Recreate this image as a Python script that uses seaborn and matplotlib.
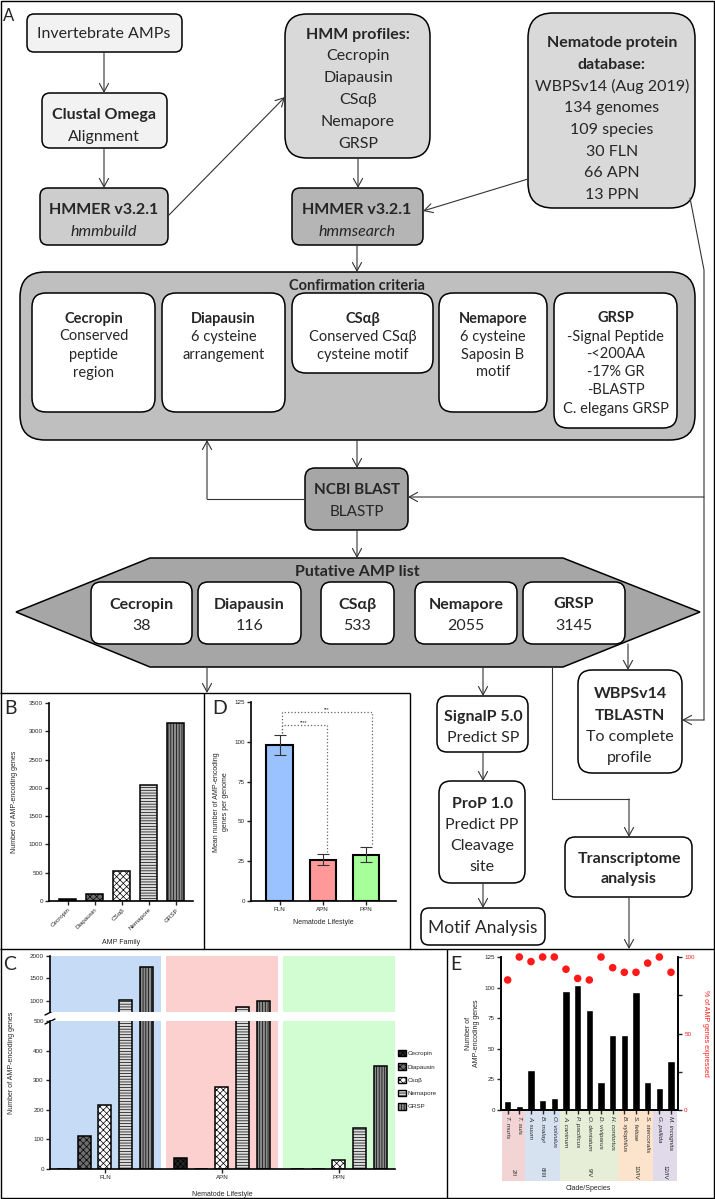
import numpy as np
import pandas as pd
import matplotlib.pyplot as plt
import seaborn as sns
from matplotlib.patches import FancyBboxPatch, Polygon, Patch, Rectangle

sns.set_style("ticks")
plt.rcParams['font.family'] = ['Liberation Sans', 'DejaVu Sans']
plt.rcParams['hatch.linewidth'] = 0.5
plt.rcParams['axes.linewidth'] = 1.2
plt.rcParams['axes.edgecolor'] = 'black'

# ---- data ----
families = ["Cecropin", "Diapausin", "CSαβ", "Nemapore", "GRSP"]
legend_names = ["Cecropin", "Diapausin", "Csαβ", "Nemapore", "GRSP"]
family_totals = [38, 116, 533, 2055, 3145]

lifestyles = ["FLN", "APN", "PPN"]
mean_per_genome = [98, 26, 29]
sem_per_genome = [6.3, 3.5, 4.7]

fln_counts = [0, 113, 215, 1025, 1745]
apn_counts = [36, 0, 278, 865, 1005]
ppn_counts = [0, 0, 31, 140, 349]

species = ["T. muris", "T. suis", "A. suum", "B. malayi", "O. volvulus",
           "A. caninum", "P. pacificus", "O. dentatum", "D. viviparus",
           "H. contortus", "B. xylophilus", "S. feltiae", "S. stercoralis",
           "G. pallida", "M. incognita"]
species_amps = [7, 3, 33, 8, 10, 97, 102, 82, 23, 61, 61, 96, 23, 18, 40]
species_pct = [85, 100, 97, 100, 100, 92, 86, 85, 100, 93, 90, 90, 96, 100, 90]
clades = ["2/I", "8/III", "9/V", "10/IV", "12/IV"]
clade_sizes = [2, 3, 5, 3, 2]

# styles
fam_fc = ['#262626', '#6e6e6e', 'white', '#dcdcdc', '#8c8c8c']
fam_hatch = ['xxxxxx', 'xxxxx', 'xxxxx', '------', '||||||']
life_colors = ['#99c2ff', '#ff9999', '#a6ff99']
life_bg = ['#c6dcf6', '#fdd0d0', '#d2fcd2']
clade_bg = ['#f2d4d4', '#d6e2f0', '#e6eed8', '#fce4cc', '#e0daea']
FLOW = ['Lato', 'DejaVu Sans']
FS = 11.5

W, H = 715, 1199
fig = plt.figure(figsize=(W / 100, H / 100), dpi=100)


def rect(x0, y0, x1, y1):
    return [x0 / W, 1 - y1 / H, (x1 - x0) / W, (y1 - y0) / H]


# overlay axes in pixel coordinates for the flowchart and frames
fa = fig.add_axes([0, 0, 1, 1])
fa.set_xlim(0, W)
fa.set_ylim(H, 0)
fa.axis('off')


def seg(xs, ys, lw=1.0, color='black'):
    fa.plot(xs, ys, color=color, lw=lw, solid_capstyle='butt')


def box(x0, y0, x1, y1, fc='white', r=10, lw=1.1):
    fa.add_patch(FancyBboxPatch((x0, y0), x1 - x0, y1 - y0,
                                boxstyle=f"round,pad=0,rounding_size={r}",
                                fc=fc, ec='black', lw=lw))


def lines(xc, y0, step, items, size=FS):
    for i, item in enumerate(items):
        txt, st = item if isinstance(item, tuple) else (item, '')
        fa.text(xc, y0 + i * step, txt, ha='center', va='center_baseline',
                fontsize=size, family=FLOW,
                fontweight='bold' if 'b' in st else 'normal',
                fontstyle='italic' if 'i' in st else 'normal')


def arrow(pts, color='#333333'):
    xs, ys = zip(*pts)
    if len(pts) > 2:
        fa.plot(xs[:-1], ys[:-1], color=color, lw=0.8)
    fa.annotate('', xy=pts[-1], xytext=pts[-2],
                arrowprops=dict(arrowstyle='->,head_length=0.55,head_width=0.3',
                                lw=0.8, color=color, shrinkA=0, shrinkB=0,
                                mutation_scale=11))


# frames
seg([1, 714, 714, 1, 1], [1, 1, 1198, 1198, 1])
seg([0, 410], [693, 693])
seg([204, 204], [693, 949])
seg([410, 410], [693, 949])
seg([0, 715], [949, 949])
seg([447, 447], [949, 1199])

# panel letters
for s, x, y in [("A", 9, 16), ("B", 11, 708), ("D", 220, 708), ("C", 10, 964), ("E", 456, 964)]:
    fa.text(x, y, s, ha='center', va='center', fontsize=14 if s != "A" else 12, family=FLOW)

# ---- flowchart ----
box(27, 14, 182, 52, '#f2f2f2', 7)
lines(104, 33, 0, ["Invertebrate AMPs"])
box(42, 93, 167, 148, '#f2f2f2', 8)
lines(104, 114, 22, [("Clustal Omega", 'b'), "Alignment"])
box(40, 188, 168, 245, '#cdcdcd', 8)
lines(104, 209, 22, [("HMMER v3.2.1", 'b'), ("hmmbuild", 'i')])
box(285, 14, 430, 158, '#d9d9d9', 22)
lines(358, 33, 21.8, [("HMM profiles:", 'b'), "Cecropin", "Diapausin", "CSαβ", "Nemapore", "GRSP"])
box(292, 188, 423, 245, '#b5b5b5', 8)
lines(357, 209, 22, [("HMMER v3.2.1", 'b'), ("hmmsearch", 'i')])
box(528, 13, 695, 208, '#d9d9d9', 25)
lines(612, 42, 21.6, [("Nematode protein", 'b'), ("database:", 'b'), "WBPSv14 (Aug 2019)",
                      "134 genomes", "109 species", "30 FLN", "66 APN", "13 PPN"])

box(20, 272, 695, 440, '#bfbfbf', 25)
lines(357, 284, 0, [("Confirmation criteria", 'b')], size=10.5)
crit = [
    ((32, 293, 155, 412), [("Cecropin", 'b'), "Conserved", "peptide", "region"]),
    ((162, 293, 285, 412), [("Diapausin", 'b'), "6 cysteine", "arrangement"]),
    ((292, 293, 433, 373), [("CSαβ", 'b'), "Conserved CSαβ", "cysteine motif"]),
    ((439, 293, 547, 412), [("Nemapore", 'b'), "6 cysteine", "Saposin B", "motif"]),
    ((554, 293, 677, 428), [("GRSP", 'b'), "-Signal Peptide", "-<200AA", "-17% GR",
                            "-BLASTP", "C. elegans GRSP"]),
]
for (x0, y0, x1, y1), items in crit:
    box(x0, y0, x1, y1, 'white', 14)
    lines((x0 + x1) / 2, 317, 18, items, size=10.5)

box(305, 468, 408, 530, '#a6a6a6', 10)
lines(357, 489, 22, [("NCBI BLAST", 'b'), "BLASTP"], size=11)

fa.add_patch(Polygon([(150, 558), (563, 558), (700, 612), (563, 667), (150, 667), (16, 612)],
                     closed=True, fc='#a6a6a6', ec='black', lw=1.1))
lines(357, 570, 0, [("Putative AMP list", 'b')])
amp_boxes = [(91, 192), (198, 301), (321, 394), (415, 517), (523, 625)]
for (x0, x1), fam, n in zip(amp_boxes, families, family_totals):
    box(x0, 582, x1, 644, 'white', 10)
    lines((x0 + x1) / 2, 603, 22, [(fam, 'b'), str(n)])

box(437, 696, 528, 752, 'white', 10)
lines(483, 715, 21, [("SignalP 5.0", 'b'), "Predict SP"])
box(439, 781, 525, 883, 'white', 12)
lines(482, 802, 21.3, [("ProP 1.0", 'b'), "Predict PP", "Cleavage", "site"])
box(421, 908, 545, 945, 'white', 8)
lines(483, 927, 0, ["Motif Analysis"], size=12.5)
box(578, 670, 682, 773, 'white', 14)
lines(630, 693, 21.3, [("WBPSv14", 'b'), ("TBLASTN", 'b'), "To complete", "profile"])
box(565, 837, 692, 897, 'white', 10)
lines(629, 857, 21, [("Transcriptome", 'b'), ("analysis", 'b')])

# arrows
arrow([(104, 52), (104, 93)])
arrow([(104, 148), (104, 188)])
arrow([(168, 216), (285, 97)])
arrow([(358, 158), (358, 188)])
arrow([(528, 179), (423, 211)])
arrow([(357, 245), (357, 272)])
arrow([(357, 440), (357, 468)])
arrow([(305, 499), (207, 499), (207, 440)])
arrow([(690, 198), (704, 270), (704, 720), (682, 720)])
arrow([(704, 497), (408, 497)])
arrow([(357, 530), (357, 558)])
arrow([(207, 667), (207, 693)])
arrow([(483, 667), (483, 696)])
arrow([(483, 752), (483, 781)])
arrow([(483, 883), (483, 908)])
arrow([(628, 644), (628, 670)])
arrow([(552, 667), (552, 799), (629, 799), (629, 837)])
arrow([(629, 897), (629, 949)])

# ---- panel B ----
axB = fig.add_axes(rect(49, 703, 193, 901))
dfB = pd.DataFrame({"family": families, "count": family_totals})
sns.barplot(data=dfB, x="family", y="count", color="white", width=0.63,
            edgecolor="black", linewidth=1.1, saturation=1, ax=axB)
for bar, fc, h in zip(axB.patches, fam_fc, fam_hatch):
    bar.set_facecolor(fc)
    bar.set_hatch(h)
axB.set_xlim(-0.7, 4.63)
axB.set_ylim(0, 3500)
axB.set_yticks(range(0, 3501, 500))
axB.set_xticks(range(len(families)))
axB.set_xticklabels(families, rotation=45, ha='right', rotation_mode='anchor')
axB.tick_params(labelsize=4.5, width=1, length=3, pad=1.5)
axB.set_xlabel("")
axB.set_ylabel("")
sns.despine(ax=axB)
fa.text(121, 943, "AMP Family", ha='center', va='center', fontsize=5)
fa.text(15, 802, "Number of AMP-encoding genes", ha='center', va='center', fontsize=5, rotation=90)

# ---- panel D ----
axD = fig.add_axes(rect(251, 702, 396, 901))
dfD = pd.DataFrame({"lifestyle": lifestyles, "mean": mean_per_genome})
sns.barplot(data=dfD, x="lifestyle", y="mean", hue="lifestyle", palette=life_colors,
            width=0.62, edgecolor="black", linewidth=1.5, saturation=1,
            legend=False, errorbar=None, ax=axD)
axD.errorbar(range(3), mean_per_genome, yerr=sem_per_genome, fmt='none',
             ecolor='#333333', elinewidth=0.8, capsize=4.5, capthick=0.8, zorder=5)
axD.plot([0.05, 0.05, 1.1, 1.1], [105.5, 110.5, 110.5, 30.5], ls=':', color='#666666', lw=0.9)
axD.plot([0.05, 0.05, 2.15, 2.15], [105.5, 119, 119, 35], ls=':', color='#666666', lw=0.9)
axD.text(0.56, 112, "****", ha='center', va='center', fontsize=3.5)
axD.text(1.1, 120.5, "***", ha='center', va='center', fontsize=3.5)
axD.set_xlim(-0.67, 2.7)
axD.set_ylim(0, 125)
axD.set_yticks(range(0, 126, 25))
axD.tick_params(labelsize=4.5, width=1, length=3, pad=1.5)
axD.set_xlabel("")
axD.set_ylabel("")
sns.despine(ax=axD)
fa.text(323, 923, "Nematode Lifestyle", ha='center', va='center', fontsize=5)
fa.text(221, 802, "Mean number of AMP-encoding\ngenes per genome", ha='center', va='center',
        fontsize=5, rotation=90, linespacing=1.3)

# ---- panel C (broken axis) ----
dfC = pd.DataFrame({"lifestyle": np.repeat(lifestyles, len(families)),
                    "family": families * len(lifestyles),
                    "count": fln_counts + apn_counts + ppn_counts})
axCt = fig.add_axes(rect(50, 956, 395, 1012))
axC = fig.add_axes(rect(50, 1021, 395, 1169))
for ax in (axCt, axC):
    sns.barplot(data=dfC, x="lifestyle", y="count", hue="family", hue_order=families,
                palette=['white'] * len(families), width=0.885, gap=0.37,
                edgecolor="black", linewidth=1.1, saturation=1, legend=False, ax=ax)
    for cont, fc, h in zip(ax.containers, fam_fc, fam_hatch):
        for bar in cont:
            bar.set_facecolor(fc)
            bar.set_hatch(h)
    for i, c in enumerate(life_bg):
        ax.axvspan(i - 0.48, i + 0.48, color=c, lw=0, zorder=0)
    ax.set_xlim(-0.47, 2.48)
    ax.set_xlabel("")
    ax.set_ylabel("")
    ax.tick_params(labelsize=4.5, width=1, length=3, pad=1.5)
axCt.set_ylim(750, 2000)
axCt.set_yticks([1000, 1500, 2000])
axCt.set_xticks([])
sns.despine(ax=axCt, bottom=True)
axC.set_ylim(0, 500)
axC.set_yticks(range(0, 501, 100))
sns.despine(ax=axC)
fa.plot([45, 55], [1015, 1010], color='black', lw=1)
fa.plot([45, 55], [1024, 1019], color='black', lw=1)
fa.text(222, 1194, "Nematode Lifestyle", ha='center', va='center', fontsize=5)
fa.text(12, 1063, "Number of AMP-encoding genes", ha='center', va='center', fontsize=5, rotation=90)
handles = [Patch(facecolor=fc, edgecolor='black', hatch=h, lw=1) for fc, h in zip(fam_fc, fam_hatch)]
fig.legend(handles, legend_names, loc='upper left', bbox_to_anchor=(398 / W, 1 - 1050 / H),
           frameon=False, fontsize=4.5, handlelength=1.2, handleheight=1.2,
           handletextpad=0.4, labelspacing=1.1, borderaxespad=0, borderpad=0)

# ---- panel E ----
axE = fig.add_axes(rect(501, 957, 678, 1110))
dfE = pd.DataFrame({"species": species, "amps": species_amps})
sns.barplot(data=dfE, x="species", y="amps", color="black", width=0.63,
            saturation=1, ax=axE)
axE.set_xlim(-0.57, 14.6)
axE.set_ylim(0, 125)
axE.set_yticks(range(0, 126, 25))
axE.set_xticks(range(len(species)))
axE.set_xticklabels(species, rotation=-90, fontstyle='italic')
axE.tick_params(labelsize=4.5, width=1, length=3, pad=1.5)
axE.set_xlabel("")
axE.set_ylabel("")
axE.spines['top'].set_visible(False)
axE2 = axE.twinx()
sns.scatterplot(x=np.arange(len(species)), y=species_pct, ax=axE2, s=30,
                color='#ff1a1a', edgecolor='none', clip_on=False, zorder=5)
axE2.set_ylim(0, 100)
axE2.set_yticks([0, 50, 100])
axE2.set_yticks([25, 75], minor=True)
axE2.tick_params(axis='y', which='both', labelsize=4.5, width=1, length=3, pad=1.5,
                 labelcolor='#ff1a1a')
axE2.spines['top'].set_visible(False)
axE2.set_ylabel("")

# clade bands
edges = [-0.45]
pos = 0
for n in clade_sizes[:-1]:
    pos += n
    edges.append(pos - 0.5)
edges.append(len(species) - 0.45)
pos = 0
for i, (cl, n) in enumerate(zip(clades, clade_sizes)):
    axE.add_patch(Rectangle((edges[i], -0.465), edges[i + 1] - edges[i], 0.465,
                            transform=axE.get_xaxis_transform(), fc=clade_bg[i],
                            ec='none', clip_on=False, zorder=-1))
    axE.text(pos + (n - 1) / 2, -0.41, cl, transform=axE.get_xaxis_transform(),
             rotation=-90, ha='center', va='center', fontsize=4.5)
    pos += n
fa.text(588, 1189, "Clade/Species", ha='center', va='center', fontsize=5)
fa.text(472, 1033, "Number of\nAMP-encoding genes", ha='center', va='center',
        fontsize=5, rotation=90, linespacing=1.2)
fa.text(705, 1033, "% of AMP genes expressed", ha='center', va='center',
        fontsize=5, rotation=-90, color='#ff1a1a')

fig.savefig("out.png", dpi=100)
